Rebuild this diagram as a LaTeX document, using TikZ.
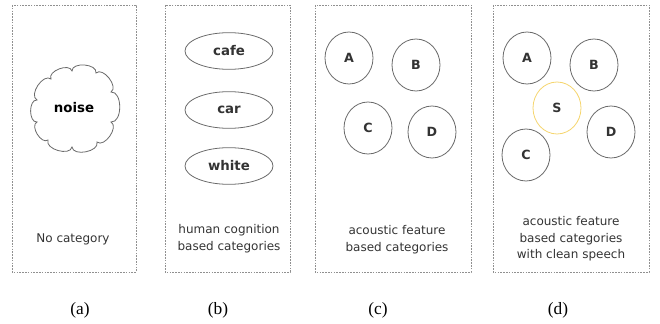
\documentclass[tikz,border=0pt]{standalone}
\usepackage{fontspec}
\setmainfont{Liberation Serif}
\newfontfamily\lblfont{DejaVu Sans}
\usetikzlibrary{shapes.geometric}
\definecolor{txtgray}{HTML}{333333}
\definecolor{linegray}{HTML}{6A6A6A}
\definecolor{boxgray}{HTML}{909090}
\definecolor{syellow}{HTML}{F5D56E}
\tikzset{
  panel/.style={draw=boxgray, line width=0.6pt, dash pattern=on 1.2pt off 0.9pt},
  catell/.style={ellipse, draw=linegray, line width=0.6pt, minimum width=66pt, minimum height=27.5pt, inner sep=0pt, font=\lblfont\bfseries\fontsize{10}{12}\selectfont, text=txtgray},
  clus/.style={ellipse, draw=linegray, line width=0.6pt, minimum width=36pt, minimum height=39pt, inner sep=0pt, font=\lblfont\bfseries\fontsize{9.5}{11}\selectfont, text=txtgray},
  desc/.style={align=center, font=\lblfont\fontsize{9}{12.5}\selectfont, text=txtgray},
  sublabel/.style={font=\fontsize{13}{15}\selectfont, text=black},
  cloudline/.style={draw=linegray, line width=0.6pt, fill=white},
  cloudtext/.style={inner sep=0pt, font=\lblfont\bfseries\fontsize{10}{12}\selectfont, text=black},
  puff/.style={bend left=95}
}
\begin{document}
\begin{tikzpicture}[x=0.75pt,y=-0.75pt]
\useasboundingbox (0,0) rectangle (660,324);
% panels
\draw[panel] (12,5) rectangle (136,272);
\draw[panel] (165,5) rectangle (290,272);
\draw[panel] (315,5) rectangle (471,272);
\draw[panel] (493,5) rectangle (649,272);
% (a) cloud
\draw[cloudline] (37,100) to[puff] (51,79) to[puff] (72,71) to[puff] (96,73)
  to[puff] (111,92) to[puff] (111,122) to[puff] (97,142) to[puff] (72,147)
  to[puff] (48,140) to[puff] (37,122) to[puff] (37,100) -- cycle;
\node[cloudtext] (noise) at (74,108) {noise};
\node[desc] (na) at (73,239) {No category};
\node[sublabel] (ca) at (80,310) {(a)};
% (b)
\node[catell] (cafe) at (229,51) {cafe};
\node[catell] (car) at (229,110) {car};
\node[catell] (white) at (229,166) {white};
\node[desc] (nb) at (229,239) {human cognition\\based categories};
\node[sublabel] (cb) at (218,310) {(b)};
% (c)
\node[clus] (cA) at (349,58) {A};
\node[clus] (cB) at (416,65) {B};
\node[clus] (cC) at (368,128) {C};
\node[clus] (cD) at (432,132) {D};
\node[desc] (nc) at (397,240) {acoustic feature\\based categories};
\node[sublabel] (cc) at (378,310) {(c)};
% (d)
\node[clus] (dA) at (527,58) {A};
\node[clus] (dB) at (594,65) {B};
\node[clus, draw=syellow] (dS) at (557,108) {S};
\node[clus] (dD) at (611,132) {D};
\node[clus] (dC) at (526,155) {C};
\node[desc] (nd) at (571,239) {acoustic feature\\based categories\\with clean speech};
\node[sublabel] (cd) at (558,310) {(d)};
\end{tikzpicture}
\end{document}
